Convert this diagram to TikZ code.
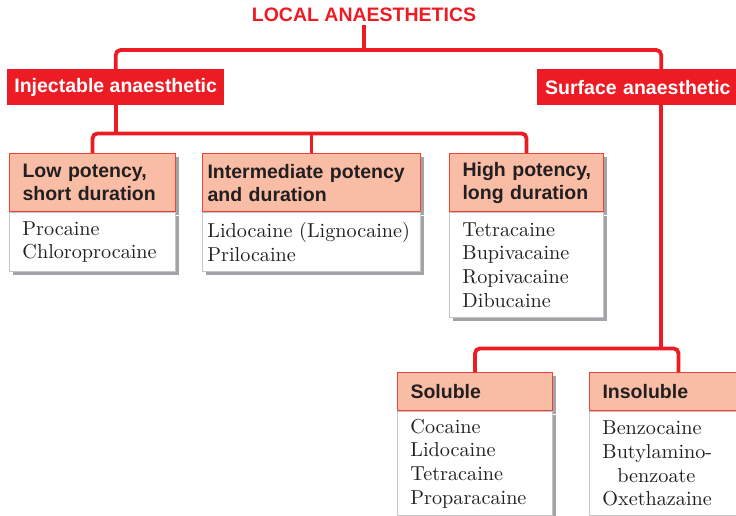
\documentclass[tikz,border=0pt]{standalone}
\usepackage{xcolor}
\usepackage{fontspec}
\newfontfamily\headfont{Liberation Sans}
\newfontfamily\bodyfont{lmroman10-regular.otf}
\usetikzlibrary{calc,shadows}
\definecolor{lared}{HTML}{ED1C24}
\definecolor{peach}{HTML}{F9BDA6}
\definecolor{edge}{HTML}{EF4136}
\definecolor{ink}{HTML}{231F20}
\definecolor{frame}{HTML}{C4C5C7}
\definecolor{shade}{HTML}{A2A4A7}
\tikzset{
  link/.style={draw=lared, line width=3.8pt, rounded corners=5pt},
  cat/.style={fill=lared, text=white, anchor=north west, inner ysep=0pt,
    font=\headfont\bfseries\fontsize{19.5}{23}\selectfont, minimum height=36pt},
  head/.style={fill=peach, draw=edge, line width=1.1pt, text=ink, anchor=north west,
    align=left, inner xsep=13pt, inner ysep=0pt,
    font=\headfont\bfseries\fontsize{19.5}{23}\selectfont,
    drop shadow={shadow xshift=3.5pt, shadow yshift=-3.5pt, fill=shade, opacity=1}},
  body/.style={fill=white, draw=frame, line width=0.9pt, text=ink, anchor=north west,
    align=left, inner xsep=13pt, inner ysep=0pt,
    font=\bodyfont\fontsize{20.2}{23.6}\selectfont,
    drop shadow={shadow xshift=3.5pt, shadow yshift=-3.5pt, fill=shade, opacity=1}}
}

\begin{document}
\begin{tikzpicture}[x=1pt, y=-1pt]
  \useasboundingbox (0,0) rectangle (736,515);
  \clip (0,0) rectangle (736,515);

  \node[text=lared, font=\headfont\bfseries\fontsize{19.5}{23}\selectfont] (title) at (364,15) {LOCAL ANAESTHETICS};

  \node[cat, minimum width=217pt] (inj) at (7,69) {Injectable anaesthetic};
  \node[cat, text width=232pt, align=left, inner xsep=8pt] (surf) at (537,69) {Surface anaesthetic};

  % injectable groups
  \node[head, text width=140pt, minimum height=58pt] (low) at (9,153) {\mbox{Low potency,}\\\mbox{short duration}};
  \node[body, text width=140pt, minimum height=59pt] (lowb) at (low.south west) {Procaine\\Chloroprocaine};

  \node[head, text width=208pt, minimum height=58pt, inner xsep=5pt] (mid) at (202,153) {\mbox{Intermediate potency}\\\mbox{and duration}};
  \node[body, text width=208pt, minimum height=59pt, inner xsep=5pt] (midb) at (mid.south west) {Lidocaine (Lignocaine)\\Prilocaine};

  \node[head, text width=128pt, minimum height=58pt] (high) at (449,153) {\mbox{High potency,}\\\mbox{long duration}};
  \node[body, text width=128pt, minimum height=105pt] (highb) at (high.south west) {Tetracaine\\Bupivacaine\\Ropivacaine\\Dibucaine};

  % surface groups
  \node[head, text width=129pt, minimum height=38pt] (sol) at (397,372) {Soluble};
  \node[body, text width=129pt, minimum height=104pt] (solb) at (sol.south west) {Cocaine\\Lidocaine\\Tetracaine\\Proparacaine};

  \node[head, text width=152pt, minimum height=38pt] (insol) at (589,372) {Insoluble};
  \node[body, text width=152pt, minimum height=104pt] (insolb) at (insol.south west) {Benzocaine\\Butylamino-\\\hspace*{15pt}benzoate\\Oxethazaine};

  \coordinate (j1) at (364,50);
  \coordinate (j2) at ($(inj.south)+(0,28)$);
  \coordinate (j3) at ($(surf.south)+(0,243)$);

  \draw[link] (title.south) -- (j1);
  \draw[link] (inj.north) |- (j1) -| (surf.north);

  \draw[link] (inj.south) -- (j2);
  \draw[link] (low.north) |- (j2) -| (high.north);
  \draw[link] (mid.north) -- (mid.north |- j2);

  \draw[link] (surf.south) -- (j3);
  \draw[link] (sol.north) |- (j3) -| (insol.north);
\end{tikzpicture}
\end{document}
